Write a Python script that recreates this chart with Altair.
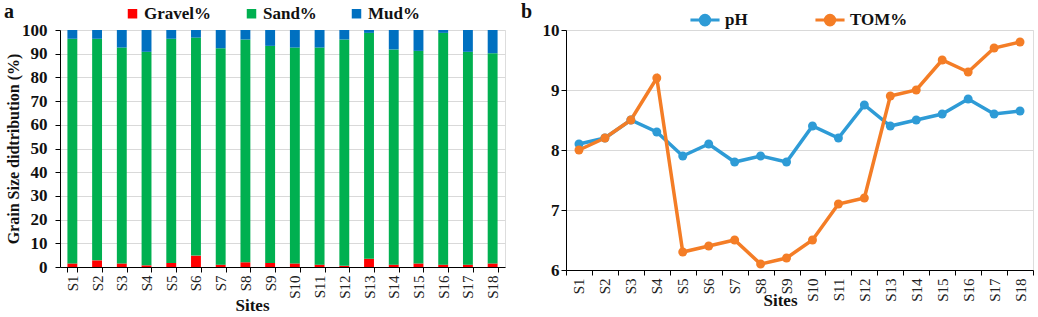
import altair as alt
import pandas as pd

sites = [f"S{i}" for i in range(1, 19)]
gravel = [1.5, 2.8, 1.5, 0.7, 1.7, 4.8, 1.0, 2.0, 1.7, 1.5, 1.0, 0.5, 3.5, 1.0, 1.5, 1.0, 1.0, 1.5]
sand = [94.8, 93.5, 91.1, 90.1, 94.6, 92.0, 91.3, 94.0, 91.6, 91.1, 91.6, 95.5, 95.3, 90.8, 89.7, 97.8, 89.8, 88.7]
mud = [3.7, 3.7, 7.4, 9.2, 3.7, 3.2, 7.7, 4.0, 6.7, 7.4, 7.4, 4.0, 1.2, 8.2, 8.8, 1.2, 9.2, 9.8]
ph = [8.1, 8.2, 8.5, 8.3, 7.9, 8.1, 7.8, 7.9, 7.8, 8.4, 8.2, 8.75, 8.4, 8.5, 8.6, 8.85, 8.6, 8.65]
tom = [8.0, 8.2, 8.5, 9.2, 6.3, 6.4, 6.5, 6.1, 6.2, 6.5, 7.1, 7.2, 8.9, 9.0, 9.5, 9.3, 9.7, 9.8]

grain_names = ["Gravel%", "Sand%", "Mud%"]
grain_colors = ["#FF0000", "#00B050", "#0070C0"]
line_names = ["pH", "TOM%"]
line_colors = ["#2E9BD6", "#F47D26"]

FONT = "Liberation Serif"

rows = []
for i, s in enumerate(sites):
    for k, (name, vals) in enumerate(zip(grain_names, [gravel, sand, mud])):
        rows.append({"Site": s, "Type": name, "Value": vals[i], "idx": k})
df_a = pd.DataFrame(rows)

rows = []
for i, s in enumerate(sites):
    rows.append({"Site": s, "Series": "pH", "Value": ph[i]})
    rows.append({"Site": s, "Series": "TOM%", "Value": tom[i]})
df_b = pd.DataFrame(rows)

x_axis_common = dict(
    labelAngle=270, tickBand="extent", grid=False, title="Sites",
    labelFont=FONT, labelFontSize=15, labelColor="#222", titleFont=FONT,
    titleFontSize=17, titleFontWeight="bold", titleColor="#111",
    domainColor="#000", tickColor="#000", tickSize=5, labelPadding=3,
)

bars = alt.Chart(df_a).mark_bar().encode(
    x=alt.X("Site:N", sort=sites,
            scale=alt.Scale(paddingInner=0.6, paddingOuter=0.3),
            axis=alt.Axis(titlePadding=-1, titleX=192, **x_axis_common)),
    y=alt.Y("Value:Q", stack="zero", scale=alt.Scale(domain=[0, 100], nice=False),
            axis=alt.Axis(values=list(range(0, 101, 10)), title="Grain Size didtribution  (%)",
                          labelFont=FONT, labelFontSize=17, labelFontWeight="bold",
                          labelColor="#111", labelPadding=8, titleFont=FONT, titleFontSize=16,
                          titleFontWeight="bold", titleColor="#111", gridColor="#D9D9D9",
                          domainColor="#000", tickColor="#000", tickSize=5, titlePadding=0)),
    color=alt.Color("Type:N", scale=alt.Scale(domain=grain_names, range=grain_colors),
                    legend=alt.Legend(orient="none", legendX=64, legendY=-25, direction="horizontal",
                                      title=None, symbolType="square", symbolSize=90,
                                      labelFont=FONT, labelFontSize=17, labelFontWeight="bold",
                                      labelColor="#111", columnPadding=31, symbolStrokeWidth=0,
                                      labelOffset=3)),
    order=alt.Order("idx:Q"),
)
label_a = alt.Chart(pd.DataFrame({"t": ["a"]})).mark_text(
    font=FONT, fontSize=20, fontWeight="bold", align="left", baseline="alphabetic", color="#111"
).encode(text="t:N", x=alt.value(-56), y=alt.value(-12))
chart_a = alt.layer(bars, label_a).properties(width=445, height=237)

sym = "M-1.1,0L1.1,0M-0.36,0A0.36,0.36 0 1,0 0.36,0A0.36,0.36 0 1,0 -0.36,0Z"
base_b = alt.Chart(df_b).encode(
    x=alt.X("Site:N", sort=sites, scale=alt.Scale(type="band", paddingInner=0, paddingOuter=0),
            axis=alt.Axis(titlePadding=-9, titleX=214, **x_axis_common)),
    y=alt.Y("Value:Q", scale=alt.Scale(domain=[6, 10], nice=False),
            axis=alt.Axis(values=[6, 7, 8, 9, 10], title=None, labelFont=FONT, labelFontSize=17,
                          labelFontWeight="bold", labelColor="#111", gridColor="#D9D9D9",
                          domainColor="#000", tickColor="#000", tickSize=5)),
)
lines = base_b.mark_line(strokeWidth=3.5).encode(
    color=alt.Color("Series:N", scale=alt.Scale(domain=line_names, range=line_colors),
                    legend=alt.Legend(orient="none", legendX=124, legendY=-25, direction="horizontal",
                                      title=None, symbolType=sym, symbolSize=700,
                                      symbolStrokeWidth=3, labelFont=FONT, labelFontSize=17,
                                      labelFontWeight="bold", labelColor="#111", columnPadding=61,
                                      labelOffset=5)),
)
points = base_b.mark_circle(size=80, opacity=1).encode(
    color=alt.Color("Series:N", scale=alt.Scale(domain=line_names, range=line_colors), legend=None),
)
label_b = alt.Chart(pd.DataFrame({"t": ["b"]})).mark_text(
    font=FONT, fontSize=20, fontWeight="bold", align="left", baseline="alphabetic", color="#111"
).encode(text="t:N", x=alt.value(-45), y=alt.value(-12))
chart_b = alt.layer(lines, points, label_b).properties(width=467, height=240)

chart = alt.hconcat(chart_a, chart_b, spacing=14).resolve_scale(color="independent").resolve_legend(
    color="independent").configure_view(stroke=None).configure(
    padding={"left": 3, "top": 1, "right": 2, "bottom": 0}, background="white")

chart.save("out.html", embed_options={"renderer": "svg", "actions": False})
